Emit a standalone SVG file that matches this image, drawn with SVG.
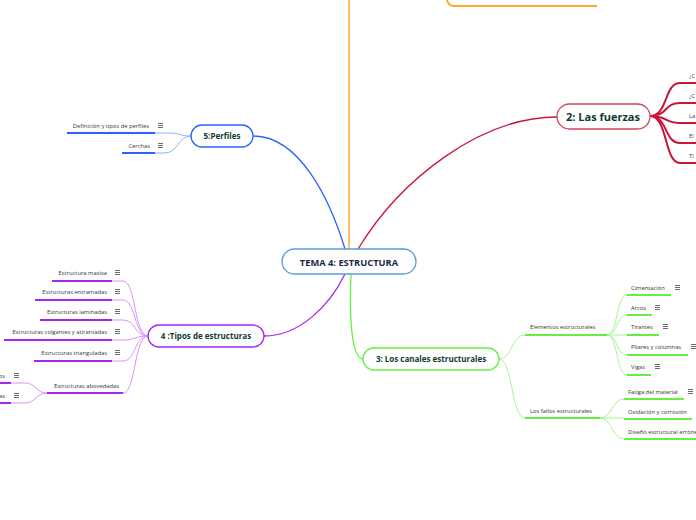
<svg xmlns="http://www.w3.org/2000/svg" width="696" height="520" viewBox="0 0 696 520">
<style>
text{font-family:"Open Sans","Noto Sans","Liberation Sans",sans-serif;}
.lbl{font-size:5.8px;fill:#333;}
.main{font-weight:bold;fill:#0d3b2c;}
.node{fill:#fff;stroke-width:1.3;}
.c{fill:none;stroke-width:1;}
.u{fill:none;stroke-width:2;}
.ic{stroke:#444;stroke-width:0.8;}
</style>
<defs>
<g id="menu"><path class="ic" d="M0,0.5H5M0,2.5H5M0,4.5H5"/></g>
</defs>
<g id="connectors">
<!-- main branches -->
<path d="M349,0V249" stroke="#ffa733" stroke-width="1.5" fill="none"/>
<path d="M447,0C448,4 450,6 454,6H597" stroke="#ffa733" stroke-width="2" fill="none"/>
<path d="M345,249C330,200 300,136 253,136" stroke="#2962ff" stroke-width="1.3" fill="none"/>
<path d="M358,249C400,180 480,117 557,117" stroke="#c8163a" stroke-width="1.3" fill="none"/>
<path d="M351,274C349,320 352,359 363,359" stroke="#66ee44" stroke-width="1.3" fill="none"/>
<path d="M345,274C330,305 300,336 264,336" stroke="#a526f0" stroke-width="1.3" fill="none"/>
<!-- perfiles -->
<path class="c" stroke="#8fb0ff" d="M191,136C180,136 180,133 168,133H155M191,136C178,136 178,153 165,153H155"/>
<path class="u" stroke="#2962ff" d="M67,133H155M122,153H155"/>
<!-- fuerzas -->
<path class="u" stroke="#c8163a" d="M650,116C668,116 664,83 680,83H696M650,116C668,116 664,103 680,103H696M650,116C668,116 664,123 680,123H696M650,116C668,116 664,143 680,143H696M650,116C668,116 664,163 680,163H696"/>
<!-- canales -->
<path class="c" stroke="#a6f590" d="M499,359C513,359 511,335 525,335M499,359C513,359 511,418 525,418"/>
<path class="u" stroke="#66ee44" d="M525,335H607M525,418H600"/>
<path class="c" stroke="#a6f590" d="M607,335C618,335 616,295 627,295M607,335C618,335 616,315 627,315M607,335H627M607,335C618,335 616,355 627,355M607,335C618,335 616,375 627,375"/>
<path class="u" stroke="#66ee44" d="M627,295H671M627,315H652M627,335H659M627,355H688M627,375H651"/>
<path class="c" stroke="#a6f590" d="M600,418C612,418 612,399 624,399M600,418H624M600,418C612,418 612,439 624,439"/>
<path class="u" stroke="#66ee44" d="M624,399H684M624,419H692M624,439H696"/>
<!-- tipos -->
<path class="c" stroke="#d793ff" d="M148,336C134,336 136,281 123,281H112M148,336C134,336 136,300 123,300H112M148,336C134,336 136,320 123,320H112M148,336C134,336 136,340 123,340H112M148,336C134,336 136,361 123,361H112M148,336C134,336 136,393 123,393"/>
<path class="u" stroke="#a526f0" d="M52,281H112M35,300H112M40,320H112M4,340H112M34,361H112M47,393H123"/>
<path class="c" stroke="#d793ff" d="M47,393C36,393 36,383 25,383H11M47,393C36,393 36,403 25,403H11"/>
<path class="u" stroke="#a526f0" d="M0,383H11M0,403H11"/>
</g>
<g id="center">
<rect x="282" y="249" width="134" height="25" rx="12.5" fill="#fff" stroke="#5b9bd5" stroke-width="1.3"/>
<text x="349" y="265.5" text-anchor="middle" font-size="9.3" font-weight="bold" fill="#1b2a4a">TEMA 4: ESTRUCTURA</text>
</g>
<g id="perfiles">
<rect class="node" x="191" y="125" width="62" height="22" rx="11" stroke="#2962ff"/>
<text class="main" x="222" y="139" text-anchor="middle" font-size="8">5:Perfiles</text>
</g>
<g id="perfiles-children">
<text class="lbl" x="149" y="128" text-anchor="end">Definición y tipos de perfiles</text>
<use href="#menu" x="158" y="123"/>
<text class="lbl" x="150" y="148" text-anchor="end">Cerchas</text>
<use href="#menu" x="158" y="143"/>
</g>
<g id="fuerzas">
<rect class="node" x="557" y="104" width="93" height="25" rx="12.5" stroke="#d0455e"/>
<text class="main" x="603" y="120.5" text-anchor="middle" font-size="11">2: Las fuerzas</text>
</g>
<g id="fuerzas-children">
<text class="lbl" x="689" y="78">¿C</text>
<text class="lbl" x="689" y="98">¿C</text>
<text class="lbl" x="689" y="118">La</text>
<text class="lbl" x="689" y="138">El</text>
<text class="lbl" x="689" y="158">Ti</text>
</g>
<g id="canales">
<rect class="node" x="363" y="348" width="136" height="22" rx="11" stroke="#66ee44"/>
<text class="main" x="431" y="362" text-anchor="middle" font-size="8">3: Los canales estructurales</text>
</g>
<g id="elementos">
<text class="lbl" x="530" y="329">Elementos estructurales</text>
</g>
<g id="elementos-children">
<text class="lbl" x="631" y="290">Cimentación</text><use href="#menu" x="675" y="285"/>
<text class="lbl" x="631" y="310">Arcos</text><use href="#menu" x="655" y="305"/>
<text class="lbl" x="631" y="329">Tirantes</text><use href="#menu" x="663" y="324"/>
<text class="lbl" x="631" y="349">Pilares y columnas</text><use href="#menu" x="691" y="344"/>
<text class="lbl" x="631" y="369">Vigas</text><use href="#menu" x="655" y="364"/>
</g>
<g id="fallos">
<text class="lbl" x="530" y="413">Los fallos estructurales</text>
</g>
<g id="fallos-children">
<text class="lbl" x="628" y="394">Fatiga del material</text><use href="#menu" x="688" y="389"/>
<text class="lbl" x="628" y="414">Oxidación y corrosión</text>
<text class="lbl" x="628" y="434">Diseño estructural erróneo</text>
</g>
<g id="tipos">
<rect class="node" x="148" y="325" width="116" height="22" rx="11" stroke="#a526f0"/>
<text class="main" x="206" y="339" text-anchor="middle" font-size="8">4 :Tipos de estructuras</text>
</g>
<g id="tipos-children">
<text class="lbl" x="107" y="275" text-anchor="end">Estructura masiva</text><use href="#menu" x="115" y="270"/>
<text class="lbl" x="107" y="294" text-anchor="end">Estructuras entramadas</text><use href="#menu" x="115" y="289"/>
<text class="lbl" x="107" y="314" text-anchor="end">Estructuras laminadas</text><use href="#menu" x="115" y="309"/>
<text class="lbl" x="107" y="334" text-anchor="end">Estructuras colgantes y atirantadas</text><use href="#menu" x="115" y="329"/>
<text class="lbl" x="107" y="355" text-anchor="end">Estructuras trianguladas</text><use href="#menu" x="115" y="350"/>
<text class="lbl" x="119" y="388" text-anchor="end">Estructuras abovedadas</text>
</g>
<g id="abovedadas-children">
<text class="lbl" x="5" y="378" text-anchor="end">os</text><use href="#menu" x="14" y="373"/>
<text class="lbl" x="5" y="398" text-anchor="end">as</text><use href="#menu" x="14" y="393"/>
</g>
</svg>
